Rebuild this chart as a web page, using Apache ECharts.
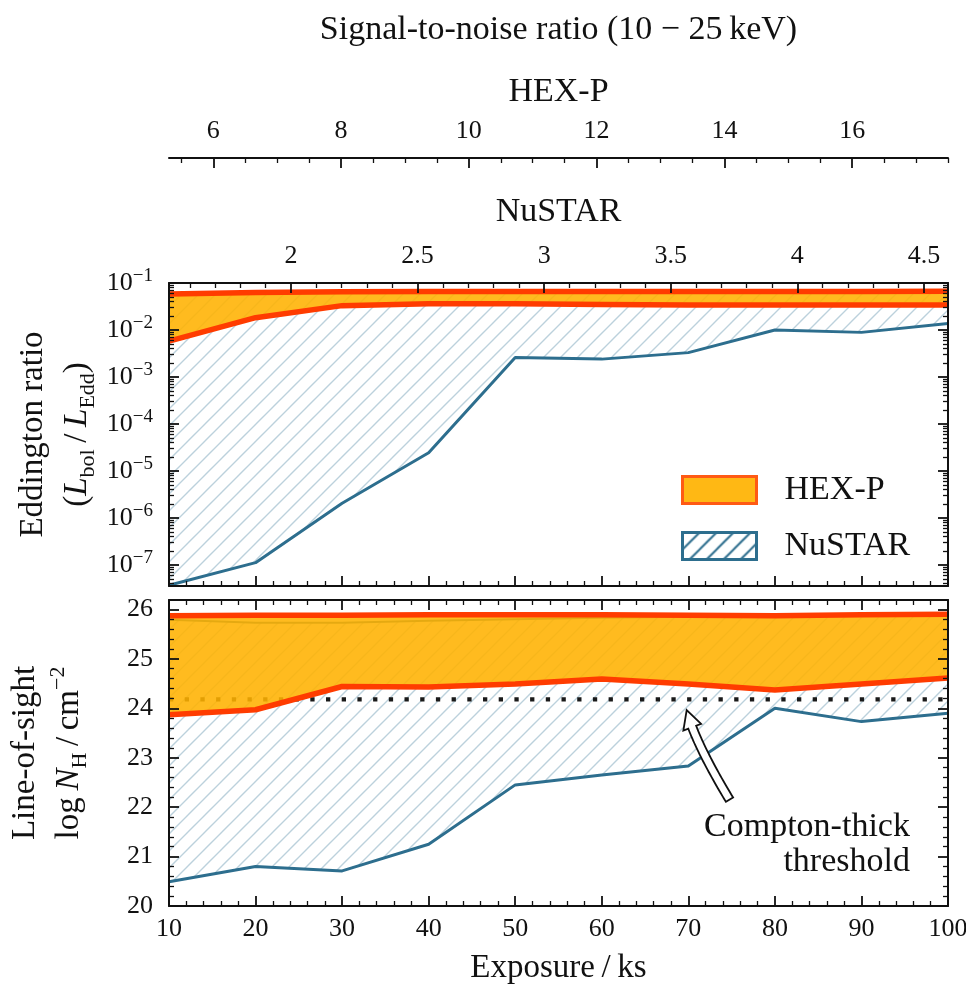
<!DOCTYPE html>
<html>
<head>
<meta charset="utf-8">
<script src="https://cdn.jsdelivr.net/npm/echarts@6/dist/echarts.min.js"></script>
<style>html,body{margin:0;padding:0;background:#fff}#c{width:966px;height:994px}</style>
</head>
<body>
<div id="c"></div>
<script>
// ---------------- data ----------------
const exposure = [10, 20, 30, 40, 50, 60, 70, 80, 90, 100];
const hexpEddUpper = [0.058, 0.063, 0.065, 0.066, 0.066, 0.066, 0.066, 0.066, 0.066, 0.067];
const hexpEddLower = [0.0058, 0.0183, 0.033, 0.036, 0.036, 0.035, 0.034, 0.034, 0.034, 0.034];
const nustarEddUpper = [0.056, 0.061, 0.063, 0.064, 0.064, 0.064, 0.064, 0.064, 0.064, 0.065];
const nustarEddLower = [3.7e-8, 1.12e-7, 2.06e-6, 2.45e-5, 2.6e-3, 2.4e-3, 3.3e-3, 1.0e-2, 8.9e-3, 1.38e-2];
const hexpNhUpper = [25.87, 25.88, 25.88, 25.89, 25.89, 25.89, 25.88, 25.87, 25.89, 25.90];
const hexpNhLower = [23.87, 23.97, 24.44, 24.43, 24.49, 24.59, 24.49, 24.37, 24.49, 24.61];
const nustarNhUpper = [25.79, 25.73, 25.73, 25.77, 25.80, 25.83, 25.85, 25.86, 25.87, 25.88];
const nustarNhLower = [20.49, 20.80, 20.71, 21.25, 22.45, 22.65, 22.83, 24.00, 23.73, 23.90];
const comptonThick = [24.18];

const exposureRange = [10, 100];
const eddRange = [3.57e-8, 0.1];
const nhRange = [20, 26.19];
const snrHexpRange = [5.307, 17.5];
const snrNustarRange = [1.518, 4.595];
const snrHexpTicks = [6, 8, 10, 12, 14, 16];
const snrNustarTicks = [2, 2.5, 3, 3.5, 4, 4.5];
const eddTicks = [1e-7, 1e-6, 1e-5, 1e-4, 1e-3, 1e-2, 1e-1];
const nhTicks = [20, 21, 22, 23, 24, 25, 26];

// ---------------- minor tick positions ----------------
function stepTicks(a, b, step, majors) {
  const out = [];
  for (let v = a; v <= b + 1e-9; v += step) {
    const r = Math.round(v * 1000) / 1000;
    if (!majors.some(m => Math.abs(m - r) < 1e-6)) out.push(r);
  }
  return out;
}
const snrHexpMinor = stepTicks(5.5, 17.5, 0.5, snrHexpTicks);
const snrNustarMinor = stepTicks(1.6, 4.59, 0.1, snrNustarTicks);
const nhMinor = stepTicks(20.2, 26.19, 0.2, nhTicks);
const eddMinor = [];
for (let e = -8; e <= -2; e++) for (let k = 2; k <= 9; k++) {
  const v = k * Math.pow(10, e);
  if (v >= eddRange[0] && v <= eddRange[1]) eddMinor.push(v);
}

// ---------------- styles ----------------
const FONT = "'Liberation Serif', 'DejaVu Serif', serif";
const INK = '#111111';
const RED = '#ff3c00';
const ORANGE = 'rgba(255,178,0,0.88)';
const BLUE = '#2d6e8e';

function makeHatch(size, color, lw, bg) {
  const c = document.createElement('canvas');
  c.width = size; c.height = size;
  const g = c.getContext('2d');
  if (bg) { g.fillStyle = bg; g.fillRect(0, 0, size, size); }
  g.strokeStyle = color; g.lineWidth = lw;
  g.beginPath();
  g.moveTo(-1, size + 1); g.lineTo(size + 1, -1);
  g.moveTo(-size / 2 - 1, size / 2 + 1); g.lineTo(size / 2 + 1, -size / 2 - 1);
  g.moveTo(size / 2 - 1, size * 1.5 + 1); g.lineTo(size * 1.5 + 1, size / 2 - 1);
  g.stroke();
  return c;
}
const plotHatch = { image: makeHatch(17, '#bcd1dc', 1.4, null), repeat: 'repeat' };
const legendHatch = { image: makeHatch(17, BLUE, 2, '#ffffff'), repeat: 'repeat' };

const majorTick = (custom, len) => ({ show: true, inside: true, length: len || 10, customValues: custom, lineStyle: { color: INK, width: 1.8 } });
const minorTickAx = (custom) => ({ show: true, inside: true, length: 5, customValues: custom, lineStyle: { color: INK, width: 1.3 } });
const frameLine = { show: true, onZero: false, lineStyle: { color: INK, width: 2 } };
const noLine = { show: false, onZero: false };
const noSplit = { show: false };
const labelStyle = { fontSize: 26, fontFamily: FONT, color: INK };
const nameStyle = { fontSize: 33, fontFamily: FONT, color: INK, lineHeight: 34 };

function expAxis(grid, pos, withLabels) {
  return {
    type: 'value', gridIndex: grid, position: pos, min: exposureRange[0], max: exposureRange[1], interval: 10, z: 10,
    axisLine: frameLine,
    axisTick: { show: true, inside: true, length: 10, lineStyle: { color: INK, width: 1.8 } },
    minorTick: { show: true, splitNumber: 5, length: 5, lineStyle: { color: INK, width: 1.3 } },
    axisLabel: withLabels ? Object.assign({ show: true, margin: 10 }, labelStyle) : { show: false },
    splitLine: noSplit, minorSplitLine: noSplit
  };
}

const logLabel = v => '{b|10}{s|\u2212' + Math.abs(Math.round(Math.log10(v))) + '}';

const xAxis = [
  // 0 top panel bottom edge: exposure
  expAxis(0, 'bottom', false),
  // 1 top panel top edge: NuSTAR S/N major + labels
  {
    type: 'value', gridIndex: 0, position: 'top', min: snrNustarRange[0], max: snrNustarRange[1], z: 10,
    axisLine: frameLine, axisTick: majorTick(snrNustarTicks),
    axisLabel: Object.assign({ show: true, margin: 14, customValues: snrNustarTicks, formatter: v => String(v) }, labelStyle),
    splitLine: noSplit,
    name: 'NuSTAR', nameLocation: 'middle', nameGap: 54, nameMoveOverlap: false,
    nameTextStyle: Object.assign({}, nameStyle, { fontSize: 34 })
  },
  // 2 NuSTAR minor ticks
  {
    type: 'value', gridIndex: 0, position: 'top', min: snrNustarRange[0], max: snrNustarRange[1], z: 10,
    axisLine: noLine, axisTick: minorTickAx(snrNustarMinor), axisLabel: { show: false }, splitLine: noSplit
  },
  // 3 bottom panel bottom edge: exposure with labels
  Object.assign(expAxis(1, 'bottom', true), {
    name: 'Exposure\u2009/\u2009ks', nameLocation: 'middle', nameGap: 45, nameMoveOverlap: false,
    nameTextStyle: nameStyle
  }),
  // 4 bottom panel top edge
  expAxis(1, 'top', false),
  // 5 HEX-P S/N axis major + labels
  {
    type: 'value', gridIndex: 2, position: 'top', min: snrHexpRange[0], max: snrHexpRange[1], z: 10,
    axisLine: frameLine, axisTick: majorTick(snrHexpTicks),
    axisLabel: Object.assign({ show: true, margin: 14, customValues: snrHexpTicks, formatter: v => String(v) }, labelStyle),
    splitLine: noSplit,
    name: 'HEX-P', nameLocation: 'middle', nameGap: 49, nameMoveOverlap: false,
    nameTextStyle: Object.assign({}, nameStyle, { fontSize: 34 })
  },
  // 6 HEX-P minor ticks + overall title
  {
    type: 'value', gridIndex: 2, position: 'top', min: snrHexpRange[0], max: snrHexpRange[1], z: 10,
    axisLine: noLine, axisTick: minorTickAx(snrHexpMinor), axisLabel: { show: false }, splitLine: noSplit,
    name: 'Signal-to-noise ratio (10 \u2212 25\u2009keV)', nameLocation: 'middle', nameGap: 111, nameMoveOverlap: false,
    nameTextStyle: Object.assign({}, nameStyle, { fontSize: 34 })
  }
];

const logRich = {
  b: { fontSize: 26, fontFamily: FONT, color: INK, lineHeight: 32 },
  s: { fontSize: 19, fontFamily: FONT, color: INK, lineHeight: 20, verticalAlign: 'top' }
};
const nameRich = {
  a: { fontSize: 33, fontFamily: FONT, color: INK, lineHeight: 44 },
  i: { fontSize: 33, fontFamily: FONT, color: INK, lineHeight: 44, fontStyle: 'italic' },
  sb: { fontSize: 22, fontFamily: FONT, color: INK, lineHeight: 26, verticalAlign: 'bottom' },
  sp: { fontSize: 22, fontFamily: FONT, color: INK, lineHeight: 26, verticalAlign: 'top' }
};

const yAxis = [
  // 0 top panel left major + labels + name
  {
    type: 'log', gridIndex: 0, position: 'left', min: eddRange[0], max: eddRange[1], z: 10,
    axisLine: frameLine, axisTick: majorTick(eddTicks),
    axisLabel: { show: true, margin: 16, customValues: eddTicks, formatter: logLabel, rich: logRich },
    splitLine: noSplit, minorTick: { show: false }, minorSplitLine: noSplit,
    name: '{a|Eddington ratio}\n{a|(}{i|L}{sb|bol}{a|\u2009/\u2009}{i|L}{sb|Edd}{a|)}',
    nameLocation: 'middle', nameRotate: 90, nameGap: 70, nameMoveOverlap: false,
    nameTextStyle: { rich: nameRich, align: 'center' }
  },
  // 1 top panel left minor
  {
    type: 'log', gridIndex: 0, position: 'left', min: eddRange[0], max: eddRange[1], z: 10,
    axisLine: noLine, axisTick: minorTickAx(eddMinor), axisLabel: { show: false }, splitLine: noSplit
  },
  // 2 top panel right major
  {
    type: 'log', gridIndex: 0, position: 'right', min: eddRange[0], max: eddRange[1], z: 10,
    axisLine: frameLine, axisTick: majorTick(eddTicks), axisLabel: { show: false }, splitLine: noSplit
  },
  // 3 top panel right minor
  {
    type: 'log', gridIndex: 0, position: 'right', min: eddRange[0], max: eddRange[1], z: 10,
    axisLine: noLine, axisTick: minorTickAx(eddMinor), axisLabel: { show: false }, splitLine: noSplit
  },
  // 4 bottom panel left major + labels + name
  {
    type: 'value', gridIndex: 1, position: 'left', min: nhRange[0], max: nhRange[1], z: 10,
    axisLine: frameLine, axisTick: majorTick(nhTicks),
    axisLabel: Object.assign({ show: true, margin: 16, customValues: nhTicks, formatter: v => String(v) }, labelStyle),
    splitLine: noSplit,
    name: '{a|Line-of-sight}\n{a|log\u2009}{i|N}{sb|H}{a|\u2009/\u2009cm}{sp|\u22122}',
    nameLocation: 'middle', nameRotate: 90, nameGap: 78, nameMoveOverlap: false,
    nameTextStyle: { rich: nameRich, align: 'center' }
  },
  // 5 bottom panel left minor
  {
    type: 'value', gridIndex: 1, position: 'left', min: nhRange[0], max: nhRange[1], z: 10,
    axisLine: noLine, axisTick: minorTickAx(nhMinor), axisLabel: { show: false }, splitLine: noSplit
  },
  // 6 bottom panel right major
  {
    type: 'value', gridIndex: 1, position: 'right', min: nhRange[0], max: nhRange[1], z: 10,
    axisLine: frameLine, axisTick: majorTick(nhTicks), axisLabel: { show: false }, splitLine: noSplit
  },
  // 7 bottom panel right minor
  {
    type: 'value', gridIndex: 1, position: 'right', min: nhRange[0], max: nhRange[1], z: 10,
    axisLine: noLine, axisTick: minorTickAx(nhMinor), axisLabel: { show: false }, splitLine: noSplit
  },
  // 8 dummy for the S/N strip
  { type: 'value', gridIndex: 2, show: false, min: 0, max: 1, splitLine: noSplit }
];

const pairs = arr => exposure.map((x, i) => [x, arr[i]]);

// band fill: custom series, polygon between lower and upper through the axis scales
function bandFill(name, lower, upper, xi, yi, fill, z) {
  return {
    type: 'custom', name: name, xAxisIndex: xi, yAxisIndex: yi, z: z, clip: true, silent: true,
    data: exposure.map((x, i) => [x, lower[i], upper[i]]),
    encode: { x: 0, y: [1, 2] },
    renderItem: function (params, api) {
      if (params.dataIndexInside !== 0) return;
      const n = exposure.length;
      const up = [], lo = [];
      for (let i = 0; i < n; i++) {
        up.push(api.coord([api.value(0, i), api.value(2, i)]));
        lo.push(api.coord([api.value(0, i), api.value(1, i)]));
      }
      return { type: 'polygon', shape: { points: up.concat(lo.reverse()) }, style: { fill: fill } };
    }
  };
}
function edge(name, arr, xi, yi, color, width, z) {
  return {
    type: 'line', name: name, xAxisIndex: xi, yAxisIndex: yi, data: pairs(arr), symbol: 'none', z: z,
    silent: true, lineStyle: { color: color, width: width, join: 'round' }
  };
}

const series = [
  bandFill('NuSTAR', nustarEddLower, nustarEddUpper, 0, 0, plotHatch, 1),
  edge('NuSTAR', nustarEddLower, 0, 0, BLUE, 3, 2),
  edge('NuSTAR', nustarEddUpper, 0, 0, BLUE, 2, 2),
  bandFill('HEX-P', hexpEddLower, hexpEddUpper, 0, 0, ORANGE, 3),
  edge('HEX-P', hexpEddLower, 0, 0, RED, 5.5, 4),
  edge('HEX-P', hexpEddUpper, 0, 0, RED, 5.5, 4),

  bandFill('NuSTAR', nustarNhLower, nustarNhUpper, 3, 4, plotHatch, 1),
  edge('NuSTAR', nustarNhLower, 3, 4, BLUE, 3, 2),
  edge('NuSTAR', nustarNhUpper, 3, 4, BLUE, 2, 2),
  {
    type: 'line', name: 'Compton-thick', xAxisIndex: 3, yAxisIndex: 4, z: 2, symbol: 'none', silent: true,
    data: [[exposureRange[0], comptonThick[0]], [exposureRange[1], comptonThick[0]]],
    lineStyle: { color: '#1a1a1a', width: 4.3, type: [4.3, 11.4], cap: 'butt' }
  },
  bandFill('HEX-P', hexpNhLower, hexpNhUpper, 3, 4, ORANGE, 3),
  edge('HEX-P', hexpNhLower, 3, 4, RED, 5.5, 4),
  edge('HEX-P', hexpNhUpper, 3, 4, RED, 5.5, 4)
];

const option = {
  animation: false,
  backgroundColor: '#ffffff',
  textStyle: { fontFamily: FONT },
  grid: [
    { left: 169, right: 18, top: 283, height: 303, outerBoundsMode: 'none', containLabel: false },
    { left: 169, right: 18, top: 600, height: 306, outerBoundsMode: 'none', containLabel: false },
    { left: 169, right: 18, top: 158, height: 1, outerBoundsMode: 'none', containLabel: false }
  ],
  xAxis: xAxis,
  yAxis: yAxis,
  legend: {
    show: true, orient: 'vertical', left: 681, top: 473, padding: 0,
    itemWidth: 74, itemHeight: 27, itemGap: 22, selectedMode: false,
    formatter: '{t|{name}}',
    textStyle: { fontSize: 34, fontFamily: FONT, color: INK, rich: { t: { fontSize: 34, fontFamily: FONT, color: INK, lineHeight: 27, padding: [0, 0, 0, 23] } } },
    data: [
      { name: 'HEX-P', icon: 'rect', itemStyle: { color: 'rgba(255,178,0,0.92)', borderColor: '#ff5a14', borderWidth: 3 } },
      { name: 'NuSTAR', icon: 'rect', itemStyle: { color: legendHatch, borderColor: BLUE, borderWidth: 3 } }
    ]
  },
  series: series
};

const chart = echarts.init(document.getElementById('c'), null, { renderer: 'canvas' });
chart.setOption(option);

// ---------------- annotation: curved hollow arrow + label ----------------
const arrowTail = [74.76, 22.15];
const arrowCtrl = [70.73, 23.32];
const arrowTip = [69.81, 23.965];
const labelAnchor = [95.6, 21.245];

const toPx = p => chart.convertToPixel({ xAxisIndex: 3, yAxisIndex: 4 }, p);
const T = toPx(arrowTail), C = toPx(arrowCtrl), P = toPx(arrowTip), L = toPx(labelAnchor);
const q = t => { const u = 1 - t; return [u * u * T[0] + 2 * u * t * C[0] + t * t * P[0], u * u * T[1] + 2 * u * t * C[1] + t * t * P[1]]; };
const qd = t => { const dx = 2 * (1 - t) * (C[0] - T[0]) + 2 * t * (P[0] - C[0]); const dy = 2 * (1 - t) * (C[1] - T[1]) + 2 * t * (P[1] - C[1]); const n = Math.hypot(dx, dy); return [dx / n, dy / n]; };
const headLen = 18, hw = 4.2, hh = 9.5;
let tHead = 1;
for (let t = 1; t > 0; t -= 0.002) { const p = q(t); if (Math.hypot(p[0] - P[0], p[1] - P[1]) >= headLen) { tHead = t; break; } }
const left = [], right = [];
const N = 30;
for (let i = 0; i <= N; i++) {
  const t = tHead * i / N; const p = q(t); const d = qd(t); const n = [-d[1], d[0]];
  left.push([p[0] + hw * n[0], p[1] + hw * n[1]]);
  right.push([p[0] - hw * n[0], p[1] - hw * n[1]]);
}
const B = q(tHead), dB = qd(tHead), nB = [-dB[1], dB[0]];
const pts = left.concat([[B[0] + hh * nB[0], B[1] + hh * nB[1]], [P[0], P[1]], [B[0] - hh * nB[0], B[1] - hh * nB[1]]], right.reverse());

chart.setOption({
  graphic: [
    { type: 'polygon', z: 30, silent: true, shape: { points: pts }, style: { fill: '#ffffff', stroke: INK, lineWidth: 1.8, lineJoin: 'miter' } },
    { type: 'text', z: 30, silent: true, x: L[0], y: L[1], style: { text: 'Compton-thick\nthreshold', fontSize: 34, fontFamily: FONT, fill: INK, align: 'right', verticalAlign: 'middle', lineHeight: 35 } }
  ]
});
</script>
</body>
</html>
